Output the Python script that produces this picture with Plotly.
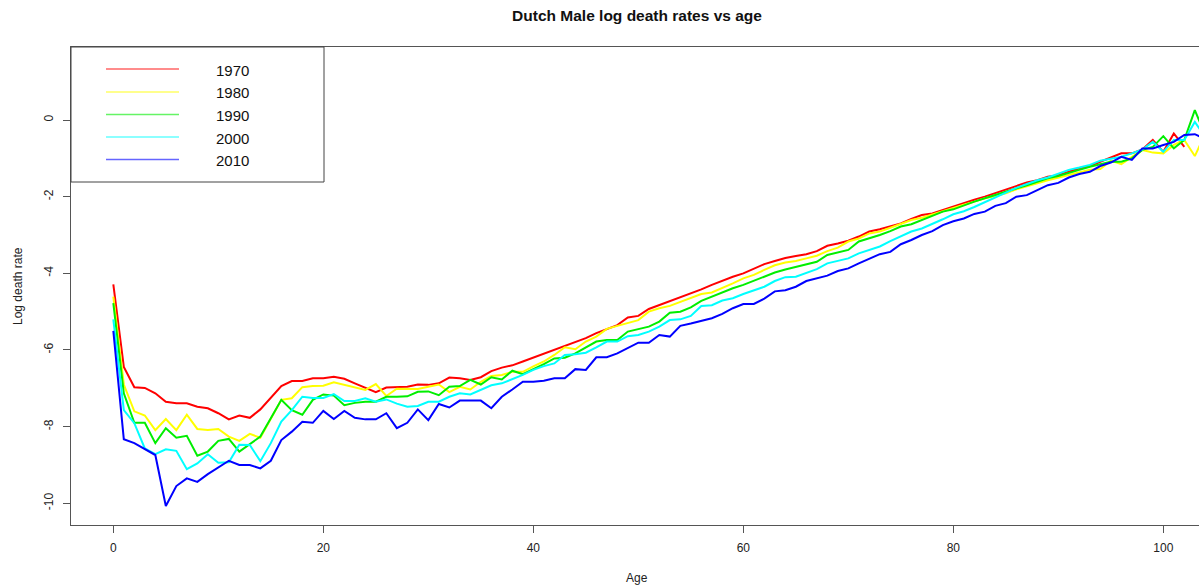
import plotly.graph_objects as go

# Ages and log death rates (Dutch males) for selected years
ages = list(range(0, 105))

rate_1970 = [
    -4.29, -6.44, -6.97, -6.99, -7.13, -7.35, -7.39, -7.39, -7.48, -7.52,
    -7.65, -7.81, -7.71, -7.77, -7.55, -7.24, -6.94, -6.81, -6.81, -6.74,
    -6.74, -6.70, -6.75, -6.87, -6.99, -7.10, -6.98, -6.97, -6.96, -6.90,
    -6.91, -6.87, -6.72, -6.74, -6.78, -6.71, -6.55, -6.46, -6.40, -6.30,
    -6.20, -6.09, -5.98, -5.88, -5.78, -5.69, -5.56, -5.46, -5.35, -5.15,
    -5.11, -4.93, -4.83, -4.72, -4.63, -4.52, -4.42, -4.30, -4.19, -4.09,
    -4.00, -3.87, -3.76, -3.68, -3.60, -3.55, -3.50, -3.42, -3.28, -3.22,
    -3.15, -3.04, -2.91, -2.85, -2.78, -2.70, -2.58, -2.48, -2.44, -2.35,
    -2.26, -2.15, -2.08, -2.00, -1.91, -1.83, -1.72, -1.63, -1.57, -1.48,
    -1.44, -1.35, -1.26, -1.20, -1.09, -1.00, -0.87, -0.87, -0.77, -0.52,
    -0.83, -0.35, -0.70,
]

rate_1980 = [
    -4.61, -6.90, -7.60, -7.71, -8.09, -7.80, -8.09, -7.69, -8.06, -8.09,
    -8.06, -8.26, -8.37, -8.19, -8.29, -7.78, -7.30, -7.26, -6.97, -6.94,
    -6.93, -6.84, -6.91, -6.98, -7.04, -6.89, -7.20, -7.01, -7.02, -7.02,
    -6.96, -6.90, -7.10, -6.96, -7.03, -6.83, -6.68, -6.65, -6.57, -6.57,
    -6.43, -6.30, -6.13, -5.93, -5.98, -5.78, -5.65, -5.45, -5.37, -5.29,
    -5.22, -5.00, -4.91, -4.85, -4.74, -4.65, -4.54, -4.50, -4.39, -4.26,
    -4.13, -4.04, -3.91, -3.79, -3.72, -3.68, -3.61, -3.54, -3.42, -3.33,
    -3.17, -3.09, -2.96, -2.91, -2.81, -2.72, -2.61, -2.55, -2.46, -2.38,
    -2.29, -2.21, -2.13, -2.04, -1.98, -1.91, -1.81, -1.72, -1.65, -1.57,
    -1.50, -1.44, -1.37, -1.30, -1.28, -1.06, -1.15, -0.96, -0.78, -0.85,
    -0.87, -0.65, -0.52, -0.94, -0.35,
]

rate_1990 = [
    -4.78, -7.13, -7.90, -7.90, -8.43, -8.04, -8.29, -8.24, -8.76, -8.65,
    -8.37, -8.32, -8.65, -8.45, -8.26, -7.78, -7.30, -7.57, -7.69, -7.30,
    -7.16, -7.19, -7.44, -7.38, -7.35, -7.35, -7.22, -7.22, -7.21, -7.09,
    -7.08, -7.18, -6.96, -6.94, -6.78, -6.90, -6.71, -6.77, -6.54, -6.63,
    -6.51, -6.37, -6.22, -6.20, -6.09, -5.93, -5.78, -5.74, -5.74, -5.52,
    -5.46, -5.39, -5.26, -5.03, -5.00, -4.89, -4.72, -4.61, -4.48, -4.39,
    -4.30, -4.19, -4.09, -3.98, -3.90, -3.83, -3.77, -3.70, -3.52, -3.45,
    -3.39, -3.17, -3.09, -3.00, -2.90, -2.78, -2.72, -2.61, -2.52, -2.39,
    -2.33, -2.22, -2.13, -2.04, -1.96, -1.87, -1.78, -1.70, -1.61, -1.52,
    -1.46, -1.39, -1.30, -1.22, -1.15, -1.09, -1.09, -1.00, -0.78, -0.70,
    -0.42, -0.74, -0.52, 0.26, -0.40,
]

rate_2000 = [
    -5.20, -7.57, -7.91, -8.57, -8.72, -8.59, -8.63, -9.11, -8.96, -8.72,
    -8.94, -8.93, -8.47, -8.48, -8.90, -8.43, -7.87, -7.57, -7.22, -7.25,
    -7.25, -7.15, -7.33, -7.33, -7.26, -7.35, -7.29, -7.40, -7.48, -7.46,
    -7.35, -7.35, -7.22, -7.13, -7.16, -7.03, -6.92, -6.87, -6.77, -6.65,
    -6.52, -6.42, -6.35, -6.13, -6.11, -6.07, -5.93, -5.78, -5.78, -5.64,
    -5.61, -5.52, -5.39, -5.22, -5.20, -5.11, -4.85, -4.83, -4.71, -4.65,
    -4.54, -4.44, -4.35, -4.20, -4.10, -4.09, -4.00, -3.89, -3.74, -3.68,
    -3.61, -3.48, -3.39, -3.30, -3.16, -3.04, -2.91, -2.83, -2.72, -2.59,
    -2.46, -2.38, -2.27, -2.14, -2.02, -1.89, -1.77, -1.67, -1.57, -1.50,
    -1.39, -1.30, -1.24, -1.17, -1.06, -1.00, -0.96, -0.87, -0.77, -0.57,
    -0.83, -0.52, -0.52, -0.05, -0.45,
]

rate_2010 = [
    -5.50, -8.33, -8.43, -8.59, -8.74, -10.07, -9.55, -9.35, -9.44, -9.24,
    -9.06, -8.89, -9.00, -9.00, -9.09, -8.89, -8.35, -8.13, -7.87, -7.90,
    -7.59, -7.80, -7.59, -7.77, -7.81, -7.81, -7.65, -8.04, -7.90, -7.55,
    -7.83, -7.41, -7.50, -7.32, -7.32, -7.32, -7.52, -7.22, -7.03, -6.83,
    -6.83, -6.80, -6.74, -6.74, -6.50, -6.52, -6.19, -6.19, -6.09, -5.96,
    -5.81, -5.81, -5.61, -5.65, -5.37, -5.31, -5.24, -5.17, -5.06, -4.91,
    -4.80, -4.80, -4.66, -4.47, -4.44, -4.35, -4.20, -4.13, -4.06, -3.94,
    -3.87, -3.74, -3.61, -3.50, -3.44, -3.24, -3.13, -3.00, -2.90, -2.74,
    -2.64, -2.57, -2.45, -2.39, -2.24, -2.17, -2.00, -1.96, -1.83, -1.70,
    -1.64, -1.50, -1.41, -1.35, -1.20, -1.11, -0.96, -1.04, -0.74, -0.74,
    -0.65, -0.57, -0.39, -0.37, -0.50,
]

years = ["1970", "1980", "1990", "2000", "2010"]
series = [rate_1970, rate_1980, rate_1990, rate_2000, rate_2010]
colors = ["#FF0000", "#FFFF00", "#00EE00", "#00FFFF", "#0000FF"]

x_ticks = [0, 20, 40, 60, 80, 100]
y_ticks = [0, -2, -4, -6, -8, -10]

W, H = 1199, 588
L, R, T, B = 71, 0, 47, 63
plot_w = W - L - R
plot_h = H - T - B

FONT = "Liberation Sans, Arial, sans-serif"
AXIS_COLOR = "#555555"
TEXT_COLOR = "#222222"

fig = go.Figure()
for year, vals, col in zip(years, series, colors):
    fig.add_trace(go.Scatter(
        x=ages[:len(vals)], y=vals, mode="lines", name=year,
        line=dict(color=col, width=2), showlegend=False,
        hoverinfo="skip",
    ))


def px_x(px):
    return (px - L) / plot_w


def px_y(py):
    return (H - B - py) / plot_h


# framed legend box in the top-left corner of the plot
shapes = [dict(
    type="rect", xref="paper", yref="paper",
    x0=px_x(71), x1=px_x(324), y0=px_y(182), y1=px_y(47),
    line=dict(color="#444444", width=1), fillcolor="white", layer="above",
)]
annotations = []
row_y = [69, 92, 114.5, 137, 159.5]
for year, col, ry in zip(years, colors, row_y):
    shapes.append(dict(
        type="line", xref="paper", yref="paper",
        x0=px_x(106), x1=px_x(179), y0=px_y(ry), y1=px_y(ry),
        line=dict(color=col, width=1.6), opacity=0.6, layer="above",
    ))
    annotations.append(dict(
        text=year, xref="paper", yref="paper",
        x=px_x(214), y=px_y(ry + 1), xanchor="left", yanchor="middle",
        showarrow=False, font=dict(family=FONT, size=15, color="#111111"),
    ))

# axis titles
annotations.append(dict(
    text="Age", xref="paper", yref="paper",
    x=px_x(637), y=px_y(578), xanchor="center", yanchor="middle",
    showarrow=False, font=dict(family=FONT, size=12, color=TEXT_COLOR),
))
annotations.append(dict(
    text="Log death rate", xref="paper", yref="paper", textangle=-90,
    x=px_x(18), y=px_y(286), xanchor="center", yanchor="middle",
    showarrow=False, font=dict(family=FONT, size=12, color=TEXT_COLOR),
))

fig.update_layout(
    width=W, height=H,
    margin=dict(l=L, r=R, t=T, b=B, pad=0),
    paper_bgcolor="white", plot_bgcolor="white",
    title=dict(
        text="<b>Dutch Male log death rates vs age</b>",
        x=637 / W, xref="container", xanchor="center",
        y=1 - 16 / H, yref="container", yanchor="middle",
        font=dict(family=FONT, size=15.5, color="#111111"),
    ),
    shapes=shapes,
    annotations=annotations,
)

fig.update_xaxes(
    range=[-4.03, -4.03 + plot_w / 10.5],
    tickvals=x_ticks, ticktext=[str(v) for v in x_ticks],
    ticks="outside", ticklen=7, tickwidth=1, tickcolor=AXIS_COLOR,
    showline=True, linecolor=AXIS_COLOR, linewidth=1, mirror=True,
    showgrid=False, zeroline=False,
    tickfont=dict(family=FONT, size=12, color=TEXT_COLOR),
    ticklabelstandoff=5,
)
fig.update_yaxes(
    range=[-10.566, 1.905],
    tickvals=y_ticks, ticktext=[str(v) for v in y_ticks],
    ticks="outside", ticklen=7, tickwidth=1, tickcolor=AXIS_COLOR,
    showline=True, linecolor=AXIS_COLOR, linewidth=1, mirror=False,
    showgrid=False, zeroline=False, tickangle=-90,
    tickfont=dict(family=FONT, size=12, color=TEXT_COLOR),
    ticklabelstandoff=5,
)

fig.write_html("out.html")
